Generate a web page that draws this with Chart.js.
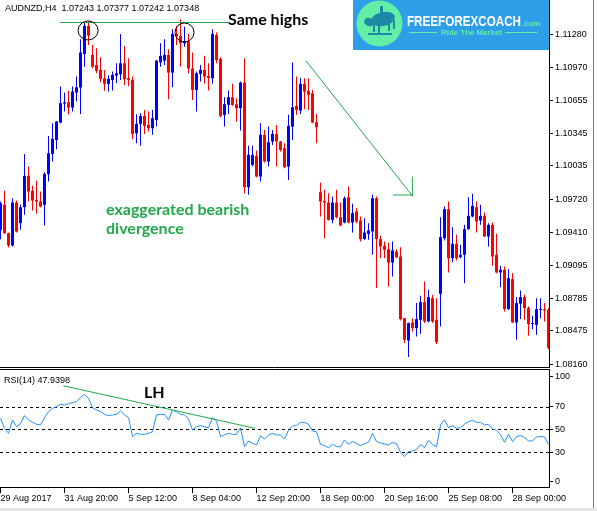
<!DOCTYPE html>
<html>
<head>
<meta charset="utf-8">
<title>AUDNZD H4 - exaggerated bearish divergence</title>
<script src="https://cdn.jsdelivr.net/npm/chart.js@4.4.0/dist/chart.umd.min.js"></script>
<style>
  html, body { margin: 0; padding: 0; background: #fff; }
  #wrap { position: relative; width: 597px; height: 511px; overflow: hidden; }
  #priceChart { position: absolute; left: 0; top: 0; }
  #rsiChart { position: absolute; left: 0; top: 368px; }
  #edgeRight { position: absolute; left: 593px; top: 0; width: 1px; height: 508px; background: #7a7a7a; }
  #edgeBottom { position: absolute; left: 0; top: 508px; width: 597px; height: 3px; background: #e4e4e4; }
</style>
</head>
<body>
<div id="wrap">
  <canvas id="priceChart" width="597" height="368"></canvas>
  <canvas id="rsiChart" width="597" height="143"></canvas>
  <div id="edgeRight"></div>
  <div id="edgeBottom"></div>
</div>
<script>
// AUDNZD H4 candles, 29 Aug - 28 Sep 2017
const open = [
  1.09431, 1.09667, 1.09399, 1.09283, 1.09689, 1.09494, 1.09645, 1.09941, 1.09800, 1.09714,
  1.09699, 1.09667, 1.09957, 1.10149, 1.10281, 1.10445, 1.10625, 1.10637, 1.10587, 1.10729,
  1.10776, 1.11094, 1.11359, 1.11085, 1.10990, 1.10943, 1.10864, 1.10811, 1.10848, 1.10889,
  1.10902, 1.11006, 1.10864, 1.10848, 1.10344, 1.10433, 1.10508, 1.10423, 1.10392, 1.10470,
  1.11015, 1.11031, 1.11085, 1.10918, 1.11283, 1.11264, 1.11195, 1.11211, 1.10956, 1.10754,
  1.10905, 1.10943, 1.10886, 1.10864, 1.11274, 1.11047, 1.10518, 1.10612, 1.10685, 1.10619,
  1.10581, 1.10823, 1.09834, 1.10045, 1.10130, 1.09935, 1.10329, 1.10077, 1.10266, 1.10338,
  1.10266, 1.10203, 1.10029, 1.10407, 1.10603, 1.10559, 1.10811, 1.10745, 1.10722, 1.10448,
  1.09787, 1.09705, 1.09689, 1.09525, 1.09689, 1.09551, 1.09500, 1.09740, 1.09500, 1.09604,
  1.09519, 1.09343, 1.09393, 1.09415, 1.09730, 1.09343, 1.09280, 1.09248, 1.09122, 1.09226,
  1.09179, 1.08596, 1.08385, 1.08555, 1.08502, 1.08580, 1.08747, 1.08565, 1.08785, 1.08580,
  1.08826, 1.09352, 1.09626, 1.09163, 1.09299, 1.09173, 1.09195, 1.09437, 1.09557, 1.09645,
  1.09519, 1.09563, 1.09368, 1.09478, 1.09195, 1.09028, 1.09053, 1.08681, 1.08965, 1.08555,
  1.08732, 1.08795, 1.08691, 1.08540, 1.08533, 1.08675, 1.08681, 1.08675
];
const high = [
  1.09699, 1.09800, 1.09406, 1.09730, 1.09708, 1.09667, 1.10149, 1.10029, 1.09847, 1.09894,
  1.09793, 1.09976, 1.10319, 1.10439, 1.10461, 1.10785, 1.10729, 1.10745, 1.10785, 1.10880,
  1.11233, 1.11390, 1.11400, 1.11179, 1.11148, 1.11063, 1.10943, 1.10893, 1.10927, 1.11006,
  1.11283, 1.11170, 1.11053, 1.10880, 1.10524, 1.10533, 1.10565, 1.10549, 1.10565, 1.11037,
  1.11195, 1.11233, 1.11138, 1.11327, 1.11359, 1.11422, 1.11352, 1.11283, 1.11107, 1.10927,
  1.10990, 1.11075, 1.11006, 1.11327, 1.11296, 1.11063, 1.10685, 1.10748, 1.10811, 1.10675,
  1.10833, 1.11053, 1.10225, 1.10225, 1.10181, 1.10439, 1.10376, 1.10407, 1.10376, 1.10423,
  1.10272, 1.10250, 1.10518, 1.11012, 1.10880, 1.10864, 1.10864, 1.10864, 1.10754, 1.10527,
  1.09878, 1.09809, 1.09777, 1.09746, 1.09809, 1.09689, 1.09746, 1.09840, 1.09677, 1.09636,
  1.09557, 1.09541, 1.09494, 1.09762, 1.09746, 1.09374, 1.09321, 1.09311, 1.09321, 1.09248,
  1.09267, 1.08596, 1.08555, 1.08596, 1.08738, 1.08807, 1.08943, 1.08864, 1.08817, 1.08785,
  1.09551, 1.09651, 1.09699, 1.09456, 1.09384, 1.09289, 1.09478, 1.09740, 1.09771, 1.09699,
  1.09667, 1.09595, 1.09494, 1.09500, 1.09393, 1.09091, 1.09084, 1.09059, 1.09021, 1.08795,
  1.08858, 1.08817, 1.08706, 1.08618, 1.08785, 1.08785, 1.08738, 1.08691
];
const low = [
  1.09343, 1.09393, 1.09267, 1.09274, 1.09406, 1.09431, 1.09573, 1.09699, 1.09614, 1.09582,
  1.09645, 1.09472, 1.09888, 1.10077, 1.10193, 1.10439, 1.10549, 1.10518, 1.10549, 1.10644,
  1.10527, 1.10974, 1.11179, 1.10959, 1.10911, 1.10823, 1.10745, 1.10738, 1.10748, 1.10817,
  1.10848, 1.10801, 1.10792, 1.10288, 1.10250, 1.10225, 1.10338, 1.10360, 1.10329, 1.10407,
  1.10974, 1.10990, 1.10666, 1.10779, 1.11179, 1.10974, 1.11163, 1.10911, 1.10659, 1.10549,
  1.10833, 1.10811, 1.10748, 1.10811, 1.11006, 1.10496, 1.10407, 1.10527, 1.10603, 1.10455,
  1.10370, 1.09777, 1.09762, 1.10029, 1.09929, 1.09888, 1.10067, 1.10029, 1.10234, 1.10029,
  1.10171, 1.10014, 1.09903, 1.10281, 1.10518, 1.10527, 1.10571, 1.10565, 1.10439, 1.10250,
  1.09557, 1.09352, 1.09519, 1.09494, 1.09541, 1.09466, 1.09494, 1.09494, 1.09406, 1.09494,
  1.09321, 1.09336, 1.09336, 1.09195, 1.08880, 1.09163, 1.09163, 1.08895, 1.08990, 1.09163,
  1.08574, 1.08360, 1.08228, 1.08470, 1.08423, 1.08448, 1.08549, 1.08558, 1.08549, 1.08351,
  1.08517, 1.09330, 1.09028, 1.09125, 1.09141, 1.09163, 1.08927, 1.09431, 1.09551, 1.09406,
  1.09478, 1.09362, 1.09274, 1.09091, 1.09021, 1.08889, 1.08659, 1.08675, 1.08549, 1.08391,
  1.08587, 1.08580, 1.08429, 1.08492, 1.08439, 1.08596, 1.08565, 1.08303
];
const close = [
  1.09683, 1.09399, 1.09283, 1.09689, 1.09415, 1.09645, 1.09941, 1.09793, 1.09708, 1.09699,
  1.09651, 1.09960, 1.10155, 1.10291, 1.10455, 1.10628, 1.10637, 1.10587, 1.10738, 1.10779,
  1.11107, 1.11359, 1.11267, 1.10974, 1.10934, 1.10858, 1.10811, 1.10858, 1.10896, 1.10911,
  1.11006, 1.10855, 1.10848, 1.10338, 1.10433, 1.10508, 1.10414, 1.10392, 1.10486, 1.11031,
  1.11075, 1.11085, 1.10918, 1.11283, 1.11258, 1.11195, 1.11211, 1.10956, 1.10754, 1.10911,
  1.10943, 1.10880, 1.10867, 1.11283, 1.11037, 1.10508, 1.10619, 1.10685, 1.10612, 1.10581,
  1.10823, 1.09834, 1.10140, 1.10140, 1.09935, 1.10329, 1.10077, 1.10259, 1.10338, 1.10266,
  1.10187, 1.10023, 1.10414, 1.10590, 1.10565, 1.10811, 1.10738, 1.10707, 1.10445, 1.10401,
  1.09699, 1.09689, 1.09525, 1.09689, 1.09551, 1.09472, 1.09730, 1.09500, 1.09588, 1.09510,
  1.09343, 1.09406, 1.09425, 1.09730, 1.09343, 1.09274, 1.09242, 1.09122, 1.09236, 1.09173,
  1.08587, 1.08391, 1.08549, 1.08502, 1.08587, 1.08747, 1.08565, 1.08795, 1.08565, 1.08369,
  1.09362, 1.09626, 1.09163, 1.09299, 1.09163, 1.09195, 1.09437, 1.09563, 1.09658, 1.09510,
  1.09563, 1.09368, 1.09478, 1.09179, 1.09028, 1.09053, 1.08681, 1.08974, 1.08555, 1.08738,
  1.08795, 1.08691, 1.08540, 1.08549, 1.08681, 1.08681, 1.08669, 1.08313
];
// RSI(14) per bar
const rsi = [
  59.6, 50.9, 46.5, 58.2, 52.3, 55.2, 62.0, 58.2, 56.1, 54.4,
  53.8, 60.2, 65.5, 68.4, 69.9, 71.9, 71.3, 72.5, 73.4, 74.2,
  77.8, 80.7, 77.2, 69.0, 66.9, 65.5, 63.1, 62.0, 62.6, 63.1,
  66.1, 62.6, 60.2, 43.6, 46.5, 45.6, 45.6, 46.5, 47.9, 62.6,
  63.1, 63.1, 58.2, 66.9, 65.5, 63.1, 62.6, 59.0, 49.4, 52.3,
  53.2, 52.3, 51.4, 60.2, 57.3, 43.6, 45.0, 46.5, 45.6, 45.6,
  51.4, 34.8, 39.8, 37.7, 36.2, 44.4, 41.5, 45.0, 46.5, 45.0,
  45.0, 41.5, 49.4, 52.9, 53.2, 56.1, 56.1, 54.4, 48.5, 47.9,
  36.8, 35.7, 33.9, 36.8, 35.1, 34.5, 40.6, 36.8, 39.2, 37.7,
  35.7, 37.4, 38.6, 46.5, 39.2, 38.0, 37.1, 36.2, 38.6, 37.4,
  29.8, 26.0, 30.4, 31.0, 32.2, 36.8, 33.9, 40.3, 36.8, 34.5,
  53.8, 58.2, 51.4, 53.2, 50.9, 51.4, 54.4, 56.7, 57.9, 56.1,
  56.1, 53.8, 54.4, 50.3, 49.1, 45.6, 38.6, 45.6, 39.2, 43.6,
  44.4, 42.7, 39.8, 39.8, 43.3, 43.6, 43.3, 36.8
];
const priceTicks = [1.11280, 1.10970, 1.10655, 1.10345, 1.10035, 1.09720, 1.09410, 1.09095, 1.08785, 1.08475, 1.08160];
const rsiTicks = [100, 70, 50, 30, 0];
const rsiLevels = [70, 50, 30];
const timeLabels = ['29 Aug 2017', '31 Aug 20:00', '5 Sep 12:00', '8 Sep 04:00', '12 Sep 20:00',
                    '18 Sep 00:00', '20 Sep 16:00', '25 Sep 08:00', '28 Sep 00:00'];
const barsPerLabel = 16;

Chart.defaults.font.family = '"Liberation Sans", Arial, sans-serif';
Chart.defaults.font.size = 9;
Chart.defaults.color = '#000';
Chart.defaults.animation = false;

const UP = '#0000ff', DOWN = '#ff0000', GREEN = '#1fa84a';
const candleColor = open.map((o, i) => close[i] >= o ? UP : DOWN);

// one bar every 4px, first bar centred on the first pixel column
const xMin = -0.125, xMax = open.length - 1 + 0.125;

function rightAxis(scale) {
  scale.width = 48;
  scale.paddingTop = 0;
  scale.paddingBottom = 0;
}

function hline(ctx, x0, x1, y) {
  ctx.beginPath(); ctx.moveTo(x0, y); ctx.lineTo(x1, y); ctx.stroke();
}

/* price window drawings */
const priceOverlay = {
  id: 'priceOverlay',
  afterDraw(chart) {
    const ctx = chart.ctx, a = chart.chartArea;
    const X = b => chart.scales.x.getPixelForValue(b);
    const Y = p => chart.scales.y.getPixelForValue(p);
    ctx.save();
    ctx.strokeStyle = '#000'; ctx.lineWidth = 1;
    hline(ctx, 0, a.right, a.bottom + 0.5);

    ctx.fillStyle = '#000';
    ctx.font = '9px "Liberation Sans"';
    ctx.fillText('AUDNZD,H4  1.07243 1.07377 1.07242 1.07348', 5, 11);

    // same highs
    ctx.strokeStyle = GREEN;
    hline(ctx, X(14.9), X(57.4), Math.round(Y(1.11399)) + 0.5);
    ctx.fillStyle = '#000';
    ctx.font = 'bold 16px Lato';
    ctx.fillText('Same highs', 228, 25);
    ctx.strokeStyle = '#000';
    ctx.beginPath(); ctx.ellipse(X(21.9), Y(1.11316), 10, 9.5, 0, 0, Math.PI * 2); ctx.stroke();
    ctx.beginPath(); ctx.ellipse(X(46), Y(1.11297), 9.5, 9.5, 0, 0, Math.PI * 2); ctx.stroke();

    // arrow
    const tx = X(103.1), ty = Y(1.09746);
    ctx.strokeStyle = GREEN;
    ctx.beginPath(); ctx.moveTo(X(76.4), Y(1.11028)); ctx.lineTo(tx, ty); ctx.stroke();
    ctx.beginPath(); ctx.moveTo(tx - 0.5, ty - 20); ctx.lineTo(tx - 0.5, ty - 1);
    ctx.moveTo(tx - 20, ty - 1.5); ctx.lineTo(tx, ty - 1.5); ctx.stroke();

    ctx.fillStyle = '#22a84b';
    ctx.font = 'bold 16px Lato';
    ctx.fillText('exaggerated bearish', 106, 215);
    ctx.fillText('divergence', 106, 234);

    // logo
    ctx.fillStyle = '#2d9fe6'; ctx.fillRect(353, 0, 196, 50);
    ctx.fillStyle = '#62eea6';
    ctx.beginPath(); ctx.arc(379.5, 23.5, 23, 0, Math.PI * 2); ctx.fill();
    ctx.fillStyle = '#1d87a6';
    ctx.beginPath(); ctx.ellipse(383, 19, 12, 7, -0.2, 0, Math.PI * 2); ctx.fill();
    ctx.beginPath(); ctx.ellipse(369, 22, 5, 4, 0.4, 0, Math.PI * 2); ctx.fill();
    ctx.fillRect(373, 23, 2, 9); ctx.fillRect(378, 24, 2, 9); ctx.fillRect(388, 22, 2, 9); ctx.fillRect(393, 20, 2, 9);
    ctx.fillRect(380, 6, 3, 8); ctx.fillRect(368, 33, 24, 2);
    ctx.fillStyle = '#fff';
    ctx.font = 'bold 15px "Liberation Sans"';
    ctx.fillText('FREEFOREXCOACH', 407, 26, 114);
    ctx.fillStyle = '#62eea6';
    ctx.font = 'bold 8px "Liberation Sans"';
    ctx.fillText('.com', 522, 26);
    ctx.fillText('Ride The Market', 441, 35, 61);
    ctx.strokeStyle = '#62eea6';
    hline(ctx, 409, 437, 32.5);
    hline(ctx, 505, 537, 32.5);
    ctx.restore();
  }
};

/* RSI window drawings */
const rsiOverlay = {
  id: 'rsiOverlay',
  beforeDatasetsDraw(chart) {
    const ctx = chart.ctx, a = chart.chartArea;
    ctx.save();
    ctx.strokeStyle = '#000'; ctx.lineWidth = 1;
    ctx.setLineDash([3, 3]);
    rsiLevels.forEach(v => hline(ctx, a.left, a.right, Math.round(chart.scales.y.getPixelForValue(v)) + 0.5));
    ctx.restore();
  },
  afterDraw(chart) {
    const ctx = chart.ctx, a = chart.chartArea;
    const X = b => chart.scales.x.getPixelForValue(b);
    const Y = v => chart.scales.y.getPixelForValue(v);
    ctx.save();
    ctx.strokeStyle = '#000'; ctx.lineWidth = 1;
    hline(ctx, 0, a.right, a.top + 0.5);
    ctx.fillStyle = '#000';
    ctx.font = '9px "Liberation Sans"';
    ctx.fillText('RSI(14) 47.9398', 4, 15);
    ctx.strokeStyle = GREEN;
    ctx.beginPath(); ctx.moveTo(X(15.7), Y(88.2)); ctx.lineTo(X(63.6), Y(50.9)); ctx.stroke();
    ctx.font = 'bold 16px Lato';
    ctx.fillText('LH', 144, 30);
    ctx.restore();
  }
};

new Chart(document.getElementById('priceChart'), {
  type: 'bar',
  data: {
    datasets: [{
      data: low.map((l, i) => ({ x: i, y: [l, high[i]] })),
      backgroundColor: candleColor, barThickness: 1, order: 2,
      grouped: false, borderWidth: 0, inflateAmount: 0
    }, {
      data: open.map((o, i) => ({ x: i, y: [o, close[i]] })),
      backgroundColor: candleColor, barThickness: 3, minBarLength: 1, order: 1,
      grouped: false, borderWidth: 0, inflateAmount: 0
    }]
  },
  options: {
    responsive: false,
    devicePixelRatio: 1,
    layout: { padding: { left: 0, right: 0, top: 0, bottom: 1 } },
    plugins: { legend: { display: false }, tooltip: { enabled: false } },
    scales: {
      x: { type: 'linear', display: false, offset: false, min: xMin, max: xMax },
      y: {
        position: 'right', min: 1.08134, max: 1.11604,
        afterBuildTicks: s => { s.ticks = priceTicks.map(v => ({ value: v })); },
        afterFit: rightAxis,
        ticks: { callback: v => v.toFixed(5), padding: 2, autoSkip: false },
        grid: { drawOnChartArea: false, tickLength: 4, color: '#000' },
        border: { color: '#000' }
      }
    }
  },
  plugins: [priceOverlay]
});

new Chart(document.getElementById('rsiChart'), {
  type: 'line',
  data: {
    datasets: [{
      data: rsi.map((v, i) => ({ x: i, y: v })),
      borderColor: '#1e90ff', borderWidth: 1, pointRadius: 0, tension: 0
    }]
  },
  options: {
    responsive: false,
    devicePixelRatio: 1,
    layout: { padding: { left: 0, right: 0, top: 1, bottom: 0 } },
    plugins: { legend: { display: false }, tooltip: { enabled: false } },
    scales: {
      x: {
        type: 'linear', offset: false, min: xMin, max: xMax,
        afterBuildTicks: s => { s.ticks = timeLabels.map((t, j) => ({ value: j * barsPerLabel })); },
        afterFit: s => { s.height = 24; s.paddingLeft = 0; s.paddingRight = 0; },
        ticks: { callback: (v, i) => timeLabels[i], align: 'start', padding: 0, maxRotation: 0, autoSkip: false },
        grid: { drawOnChartArea: false, tickLength: 6, color: '#000' },
        border: { color: '#000' }
      },
      y: {
        position: 'right', min: -0.6, max: 102.9,
        // end labels sit just inside the window, as in the terminal
        afterBuildTicks: s => { s.ticks = rsiTicks.map(v => ({ value: v === 100 ? 96 : v === 0 ? 4 : v })); },
        afterFit: rightAxis,
        ticks: { callback: (v, i) => String(rsiTicks[i]), padding: 2, autoSkip: false },
        grid: { drawOnChartArea: false, tickLength: 4, color: '#000' },
        border: { color: '#000' }
      }
    }
  },
  plugins: [rsiOverlay]
});
</script>
</body>
</html>
